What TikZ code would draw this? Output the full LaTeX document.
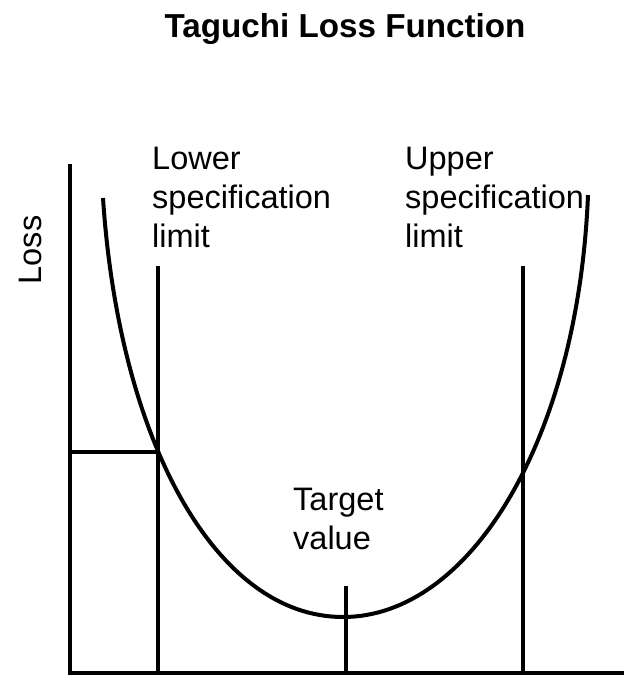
\documentclass[tikz,border=0pt]{standalone}
\usepackage{fontspec}
\setmainfont{Liberation Sans}
\begin{document}
\begin{tikzpicture}[x=1pt,y=-1pt,
  thickline/.style={line width=4.5pt,line cap=rect},
  curveline/.style={line width=4pt},
  lbl/.style={font=\fontsize{32.5}{39}\selectfont,inner sep=0pt,align=left,anchor=north west},
  ttl/.style={font=\fontsize{33.2}{39}\selectfont\bfseries,inner sep=0pt,anchor=base}]
\useasboundingbox (0,0) rectangle (639,687);
% axes
\coordinate (ytop) at (70,166);
\coordinate (origin) at (70,673);
\coordinate (xend) at (622,673);
\draw[thickline] (ytop) -- (origin) -- (xend);
% specification limits
\coordinate (lsltop) at (158,266);
\coordinate (lslbot) at (158,673);
\coordinate (usltop) at (523,266);
\coordinate (uslbot) at (523,673);
\draw[thickline,line cap=butt] (lsltop) -- (lslbot);
\draw[thickline,line cap=butt] (usltop) -- (uslbot);
% loss at lower limit
\coordinate (lossy) at (70,452);
\coordinate (lossx) at (158,452);
\draw[thickline,line cap=butt] (lossy) -- (lossx);
% target tick
\coordinate (tgttop) at (346,586);
\coordinate (tgtbot) at (346,673);
\draw[thickline,line cap=butt] (tgttop) -- (tgtbot);
% loss curve
\coordinate (cl) at (103,198);
\coordinate (cmin) at (343,617);
\coordinate (cr) at (588,195);
\draw[curveline] (cl) .. controls (119,440) and (215,617) .. (cmin)
  .. controls (470,617) and (578,440) .. (cr);
% texts
\node[ttl] (title) at (345,38) {Taguchi Loss Function};
\node[lbl] (lsl) at (152,147) {Lower\\specification\\limit};
\node[lbl] (usl) at (405,147) {Upper\\specification\\limit};
\node[lbl] (tgt) at (293,488) {Target\\value};
\node[font=\fontsize{32.5}{39}\selectfont,inner sep=0pt,rotate=90] (loss) at (30,250) {Loss};
\end{tikzpicture}
\end{document}
